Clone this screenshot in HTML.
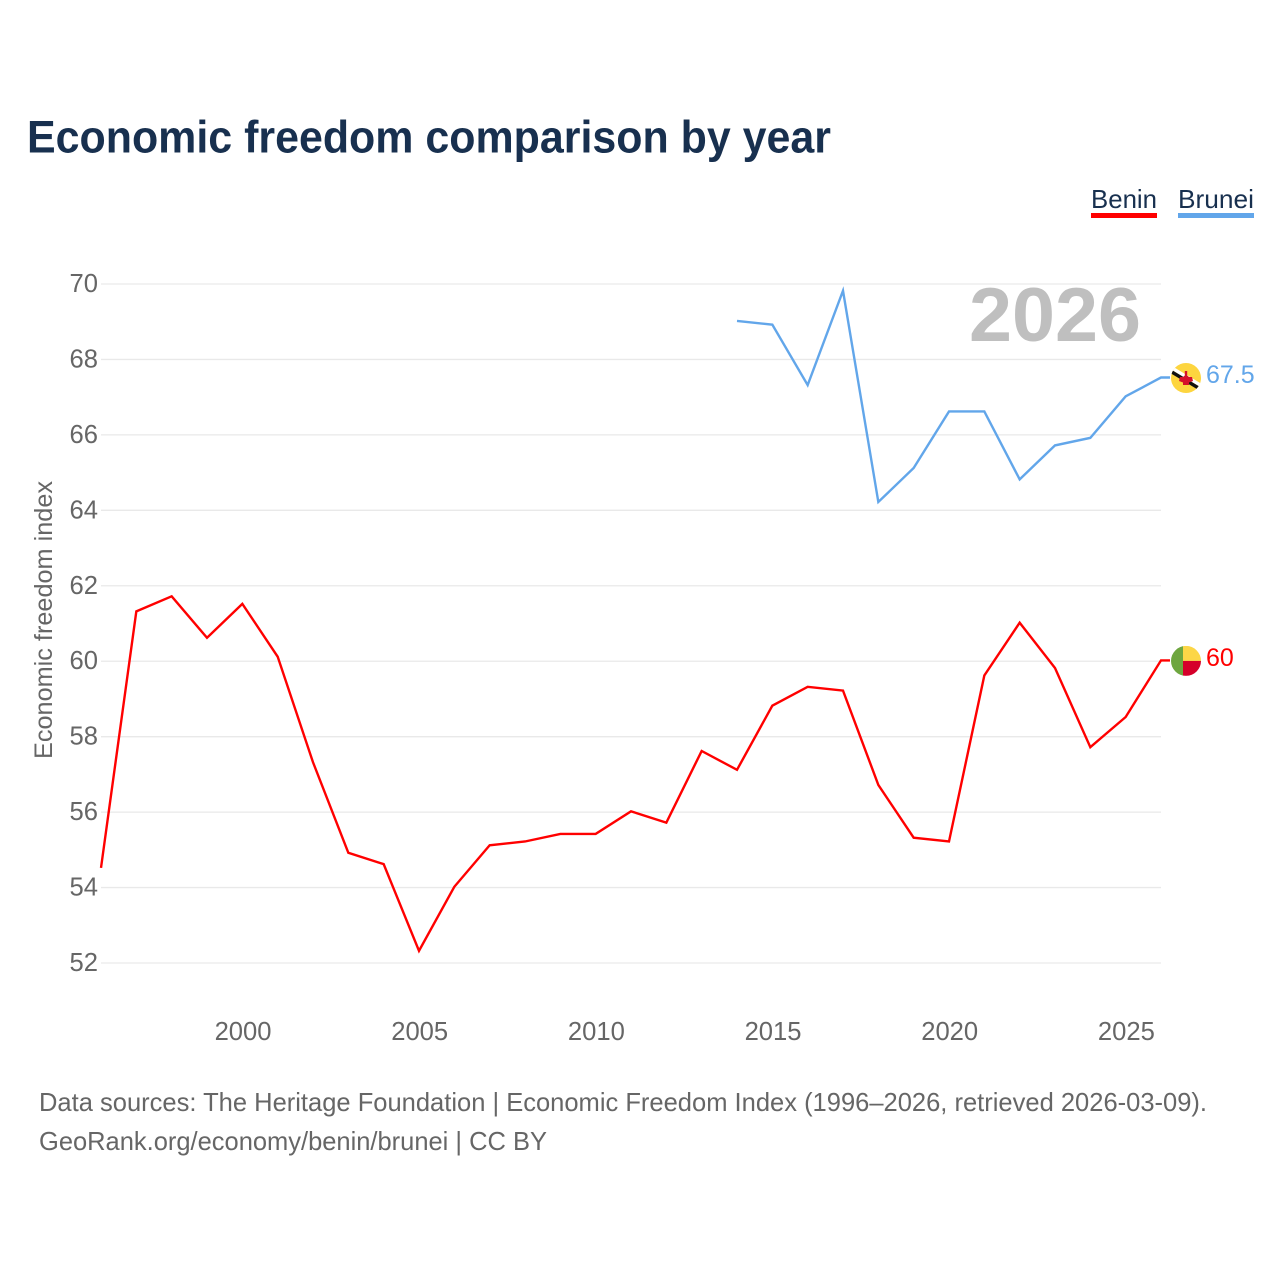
<!DOCTYPE html>
<html lang="en">
<head>
<meta charset="utf-8">
<title>Economic freedom comparison by year</title>
<style>
  html, body { margin: 0; padding: 0; background: #fff; }
  svg { display: block; font-family: "Liberation Sans", sans-serif; }
</style>
</head>
<body>
<svg id="chart" xmlns="http://www.w3.org/2000/svg" width="1280" height="1280" viewBox="0 0 1280 1280">
  <defs>
    <clipPath id="flag-clip"><circle cx="0" cy="0" r="15"/></clipPath>
  </defs>
  <rect x="0" y="0" width="1280" height="1280" fill="#ffffff"/>
  <text x="27" y="152.5" font-size="45" font-weight="700" fill="#18304f" textLength="804" lengthAdjust="spacingAndGlyphs">Economic freedom comparison by year</text>

  <g>
    <text x="1091" y="208" font-size="26" fill="#18304f" textLength="66" lengthAdjust="spacingAndGlyphs">Benin</text>
    <rect x="1091" y="213" width="66" height="5" fill="#ff0000"/>
  </g>
  <g>
    <text x="1178" y="208" font-size="26" fill="#18304f" textLength="76" lengthAdjust="spacingAndGlyphs">Brunei</text>
    <rect x="1178" y="213" width="76" height="5" fill="#62a6ea"/>
  </g>

  <g id="grid"></g>
  <g id="y-axis"></g>
  <g id="x-axis"></g>

  <text x="969" y="341" font-size="76" font-weight="700" fill="#bfbfbf" textLength="172" lengthAdjust="spacingAndGlyphs">2026</text>

  <text transform="translate(52 620) rotate(-90)" text-anchor="middle" font-size="25" fill="#666666" textLength="278" lengthAdjust="spacingAndGlyphs">Economic freedom index</text>

  <g id="series"></g>

  <text x="39" y="1111" font-size="26" fill="#666666" textLength="1168" lengthAdjust="spacingAndGlyphs">Data sources: The Heritage Foundation | Economic Freedom Index (1996–2026, retrieved 2026-03-09).</text>
  <text x="39" y="1150" font-size="26" fill="#666666" textLength="508" lengthAdjust="spacingAndGlyphs">GeoRank.org/economy/benin/brunei | CC BY</text>
</svg>

<script>
const beninYears = [1996,1997,1998,1999,2000,2001,2002,2003,2004,2005,2006,2007,2008,2009,2010,2011,2012,2013,2014,2015,2016,2017,2018,2019,2020,2021,2022,2023,2024,2025,2026];
const beninValues = [54.5,61.3,61.7,60.6,61.5,60.1,57.3,54.9,54.6,52.3,54.0,55.1,55.2,55.4,55.4,56.0,55.7,57.6,57.1,58.8,59.3,59.2,56.7,55.3,55.2,59.6,61.0,59.8,57.7,58.5,60];
const bruneiYears = [2014,2015,2016,2017,2018,2019,2020,2021,2022,2023,2024,2025,2026];
const bruneiValues = [69.0,68.9,67.3,69.8,64.2,65.1,66.6,66.6,64.8,65.7,65.9,67.0,67.5];
const yTicks = [52,54,56,58,60,62,64,66,68,70];
const xTicks = [2000,2005,2010,2015,2020,2025];

const NS = 'http://www.w3.org/2000/svg';
const plot = { left: 101, right: 1161, top70: 284, bottom52: 963 };
function xScale(year) {
  return plot.left + (year - 1996) * (plot.right - plot.left) / (2026 - 1996);
}
function yScale(value) {
  return plot.bottom52 - (value - 52) * (plot.bottom52 - plot.top70) / (70 - 52);
}
function make(tag, attrs, parent, text) {
  const el = document.createElementNS(NS, tag);
  for (const k in attrs) el.setAttribute(k, attrs[k]);
  if (text !== undefined) el.textContent = text;
  parent.appendChild(el);
  return el;
}

const grid = document.getElementById('grid');
const yAxis = document.getElementById('y-axis');
const xAxis = document.getElementById('x-axis');
const series = document.getElementById('series');

yTicks.forEach(function (t) {
  const line = make('line', { x1: plot.left, x2: plot.right, y1: yScale(t), y2: yScale(t), stroke: '#e9e9e9', 'stroke-width': 1.3 }, grid);
  
  
  const label = make('text', { x: 98, y: yScale(t) + 8, 'text-anchor': 'end', 'font-size': 25.6, fill: '#666666' }, yAxis, String(t));
  
  
});

xTicks.forEach(function (t) {
  const label = make('text', { x: xScale(t) + 0.7, y: 1040, 'text-anchor': 'middle', 'font-size': 25.6, fill: '#666666' }, xAxis, String(t));
  
  
});

const seriesShift = -0.8;

function pathFor(years, values) {
  return years.map(function (y, i) {
    return (i ? 'L' : 'M') + xScale(y).toFixed(2) + ' ' + (yScale(values[i]) + seriesShift).toFixed(2);
  }).join(' ');
}

function drawSeries(name, years, values, color) {
  const lastX = xScale(years[years.length - 1]);
  const lastY = yScale(values[values.length - 1]) + seriesShift;
  const line = make('path', { d: pathFor(years, values) + ' L' + (lastX + 9) + ' ' + lastY.toFixed(2), fill: 'none', stroke: color, 'stroke-width': 2.4, 'stroke-linejoin': 'miter', 'stroke-miterlimit': 10 }, series);
  
  
  const label = make('text', { x: lastX + 45, y: lastY + 5.5, 'font-size': 25, fill: color }, series, String(values[values.length - 1]));
  
  
  const flag = make('g', { transform: 'translate(' + (lastX + 25) + ' ' + (lastY + 0.5).toFixed(2) + ')', 'clip-path': 'url(#flag-clip)' }, series);
  
  
  return flag;
}

const beninFlag = drawSeries('benin', beninYears, beninValues, '#ff0000');
const bruneiFlag = drawSeries('brunei', bruneiYears, bruneiValues, '#62a6ea');

make('rect', { x: -15, y: -15, width: 12, height: 30, fill: '#6ea63f' }, beninFlag);
make('rect', { x: -3, y: -15, width: 18, height: 15, fill: '#fcd647' }, beninFlag);
make('rect', { x: -3, y: 0, width: 18, height: 15, fill: '#d5002a' }, beninFlag);

make('rect', { x: -15, y: -15, width: 30, height: 30, fill: '#fdd53f' }, bruneiFlag);
make('polygon', { points: '-17,-13.7 17,6.7 17,10.7 -17,-9.7', fill: '#ffffff' }, bruneiFlag);
make('polygon', { points: '-17,-9.7 17,10.7 17,14.7 -17,-5.7', fill: '#111111' }, bruneiFlag);
make('polygon', { points: '-1.2,-7 1.2,-7 1.2,-2.5 3,-1 6,-1 7,3 3,4.5 3,7 -3,7 -3,4.5 -7,3 -6,-1 -3,-1 -1.2,-2.5', fill: '#d5102a' }, bruneiFlag);
</script>
</body>
</html>
